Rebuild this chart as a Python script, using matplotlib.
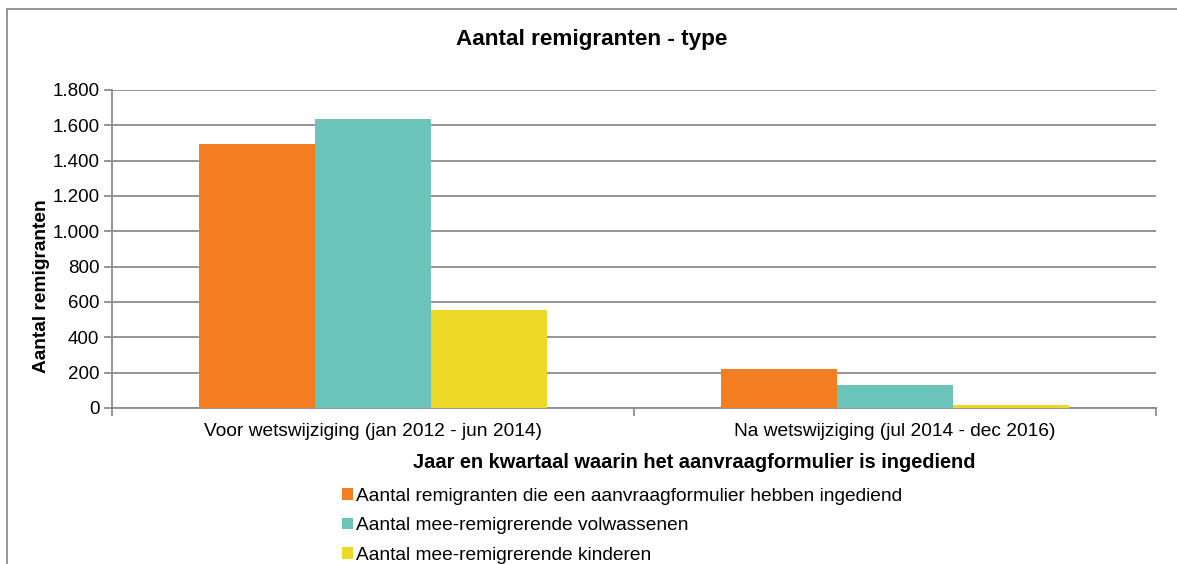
import matplotlib.pyplot as plt
from matplotlib.patches import Rectangle
from matplotlib.ticker import FuncFormatter
import numpy as np

plt.rcParams['font.family'] = ['Liberation Sans', 'DejaVu Sans']

categories = ['Voor wetswijziging (jan 2012 - jun 2014)',
              'Na wetswijziging (jul 2014 - dec 2016)']
series_names = ['Aantal remigranten die een aanvraagformulier hebben ingediend',
                'Aantal mee-remigrerende volwassenen',
                'Aantal mee-remigrerende kinderen']
aanvragers = [1497, 218]
volwassenen = [1635, 128]
kinderen = [553, 15]
colors = ['#F37D21', '#6BC4BA', '#EBD926']

grid_col = '#8C8C8C'

fig = plt.figure(figsize=(11.77, 5.64), dpi=100)
ax = fig.add_axes([112 / 1177, 1 - 408 / 564, (1156 - 112) / 1177, (408 - 90) / 564])

x = np.arange(len(categories))
w = 0.222
handles = []
for i, (vals, name) in enumerate(zip([aanvragers, volwassenen, kinderen], series_names)):
    b = ax.bar(x + (i - 1) * w, vals, width=w, color=colors[i], label=name, zorder=3)
    handles.append(b)

ax.set_xlim(-0.5, 1.5)
ax.set_ylim(0, 1800)
ax.set_yticks(range(0, 1801, 200))
ax.yaxis.set_major_formatter(FuncFormatter(lambda v, p: '{:,.0f}'.format(v).replace(',', '.')))
ax.grid(axis='y', color=grid_col, linewidth=1.3, zorder=0)

for s in ['top', 'right']:
    ax.spines[s].set_visible(False)
for s in ['left', 'bottom']:
    ax.spines[s].set_color(grid_col)
    ax.spines[s].set_linewidth(1.3)

# category boundaries get the tick marks, labels sit in between
ax.set_xticks([-0.5, 0.5, 1.5])
ax.set_xticklabels([])
ax.set_xticks(x, minor=True)
ax.set_xticklabels(categories, minor=True)
ax.tick_params(axis='x', which='major', length=6, color=grid_col, width=1.3)
ax.tick_params(axis='x', which='minor', length=0, labelsize=13.8, pad=11)
ax.tick_params(axis='y', length=6, color=grid_col, width=1.3, labelsize=13.5, pad=3)

fig.text(592 / 1177, 1 - 40 / 564, 'Aantal remigranten - type', ha='center', va='center',
         fontsize=16.2, fontweight='bold')
fig.text(42 / 1177, 1 - 286 / 564, 'Aantal remigranten', ha='center', va='center',
         rotation=90, fontsize=13.8, fontweight='bold')
fig.text(694 / 1177, 1 - 462 / 564, 'Jaar en kwartaal waarin het aanvraagformulier is ingediend',
         ha='center', va='center', fontsize=14.4, fontweight='bold')

fig.legend(handles=handles, loc='upper left', bbox_to_anchor=(342 / 1177, 1 - 488 / 564),
           frameon=False, fontsize=13.8, handlelength=0.55, handleheight=0.55,
           handletextpad=0.2, labelspacing=0.64, borderaxespad=0, borderpad=0)

fig.patches.append(Rectangle((7 / 1177, -0.1), 1.2, 1 - 9 / 564 + 0.1, transform=fig.transFigure,
                             fill=False, edgecolor='#8C8C8C', linewidth=1.3))

fig.savefig('out.png', dpi=100)
